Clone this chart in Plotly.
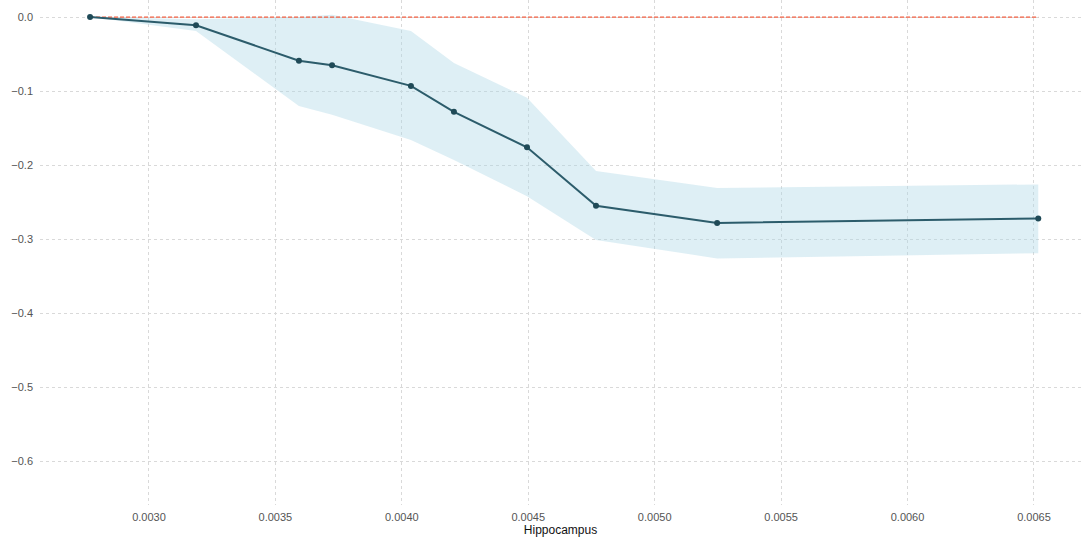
import plotly.graph_objects as go

x_vals = [0.002767, 0.003186, 0.003593, 0.003724, 0.004036, 0.004206, 0.004495, 0.004768, 0.005247, 0.006517]
y_mean = [0.0, -0.011, -0.059, -0.065, -0.093, -0.128, -0.176, -0.255, -0.278, -0.272]
y_upper = [0.0, -0.003, 0.0, 0.003, -0.019, -0.062, -0.109, -0.208, -0.231, -0.226]
y_lower = [0.0, -0.019, -0.120, -0.132, -0.166, -0.193, -0.242, -0.301, -0.326, -0.319]
x_ticks = [0.0030, 0.0035, 0.0040, 0.0045, 0.0050, 0.0055, 0.0060, 0.0065]
y_ticks = [0.0, -0.1, -0.2, -0.3, -0.4, -0.5, -0.6]
x_title = "Hippocampus"

fig = go.Figure()
fig.add_trace(go.Scatter(x=x_vals, y=y_upper, mode="lines", line=dict(width=0), showlegend=False, hoverinfo="skip"))
fig.add_trace(go.Scatter(x=x_vals, y=y_lower, mode="lines", line=dict(width=0), fill="tonexty",
                         fillcolor="rgba(173,216,230,0.4)", showlegend=False, hoverinfo="skip"))
fig.add_trace(go.Scatter(x=[x_vals[0], x_vals[-1]], y=[0, 0], mode="lines",
                         line=dict(color="#ee5a3c", width=1.2, dash="4px,2px"), showlegend=False))
fig.add_trace(go.Scatter(x=x_vals, y=y_mean, mode="lines+markers",
                         line=dict(color="#2c5c6b", width=2),
                         marker=dict(color="#1f4a57", size=6), showlegend=False))

fig.update_layout(
    width=1081, height=537,
    margin=dict(l=40, r=0, t=0, b=32),
    plot_bgcolor="white", paper_bgcolor="white",
    font=dict(family="Liberation Sans, Arial, sans-serif", size=11, color="#555555"),
    xaxis=dict(range=[0.002569, 0.006686], tickvals=x_ticks, tickformat=".4f",
               showgrid=True, gridcolor="#d9d9d9", griddash="dot", gridwidth=1,
               zeroline=False, showline=False, ticks="", ticklabelstandoff=4,
               title=dict(text=x_title, font=dict(size=12, color="#111111"), standoff=2)),
    yaxis=dict(range=[-0.659, 0.023], tickvals=y_ticks, tickformat=".1f",
               showgrid=True, gridcolor="#d9d9d9", griddash="dot", gridwidth=1,
               zeroline=False, showline=False, ticks="", ticklabelstandoff=6),
)
fig.write_html("out.html")
